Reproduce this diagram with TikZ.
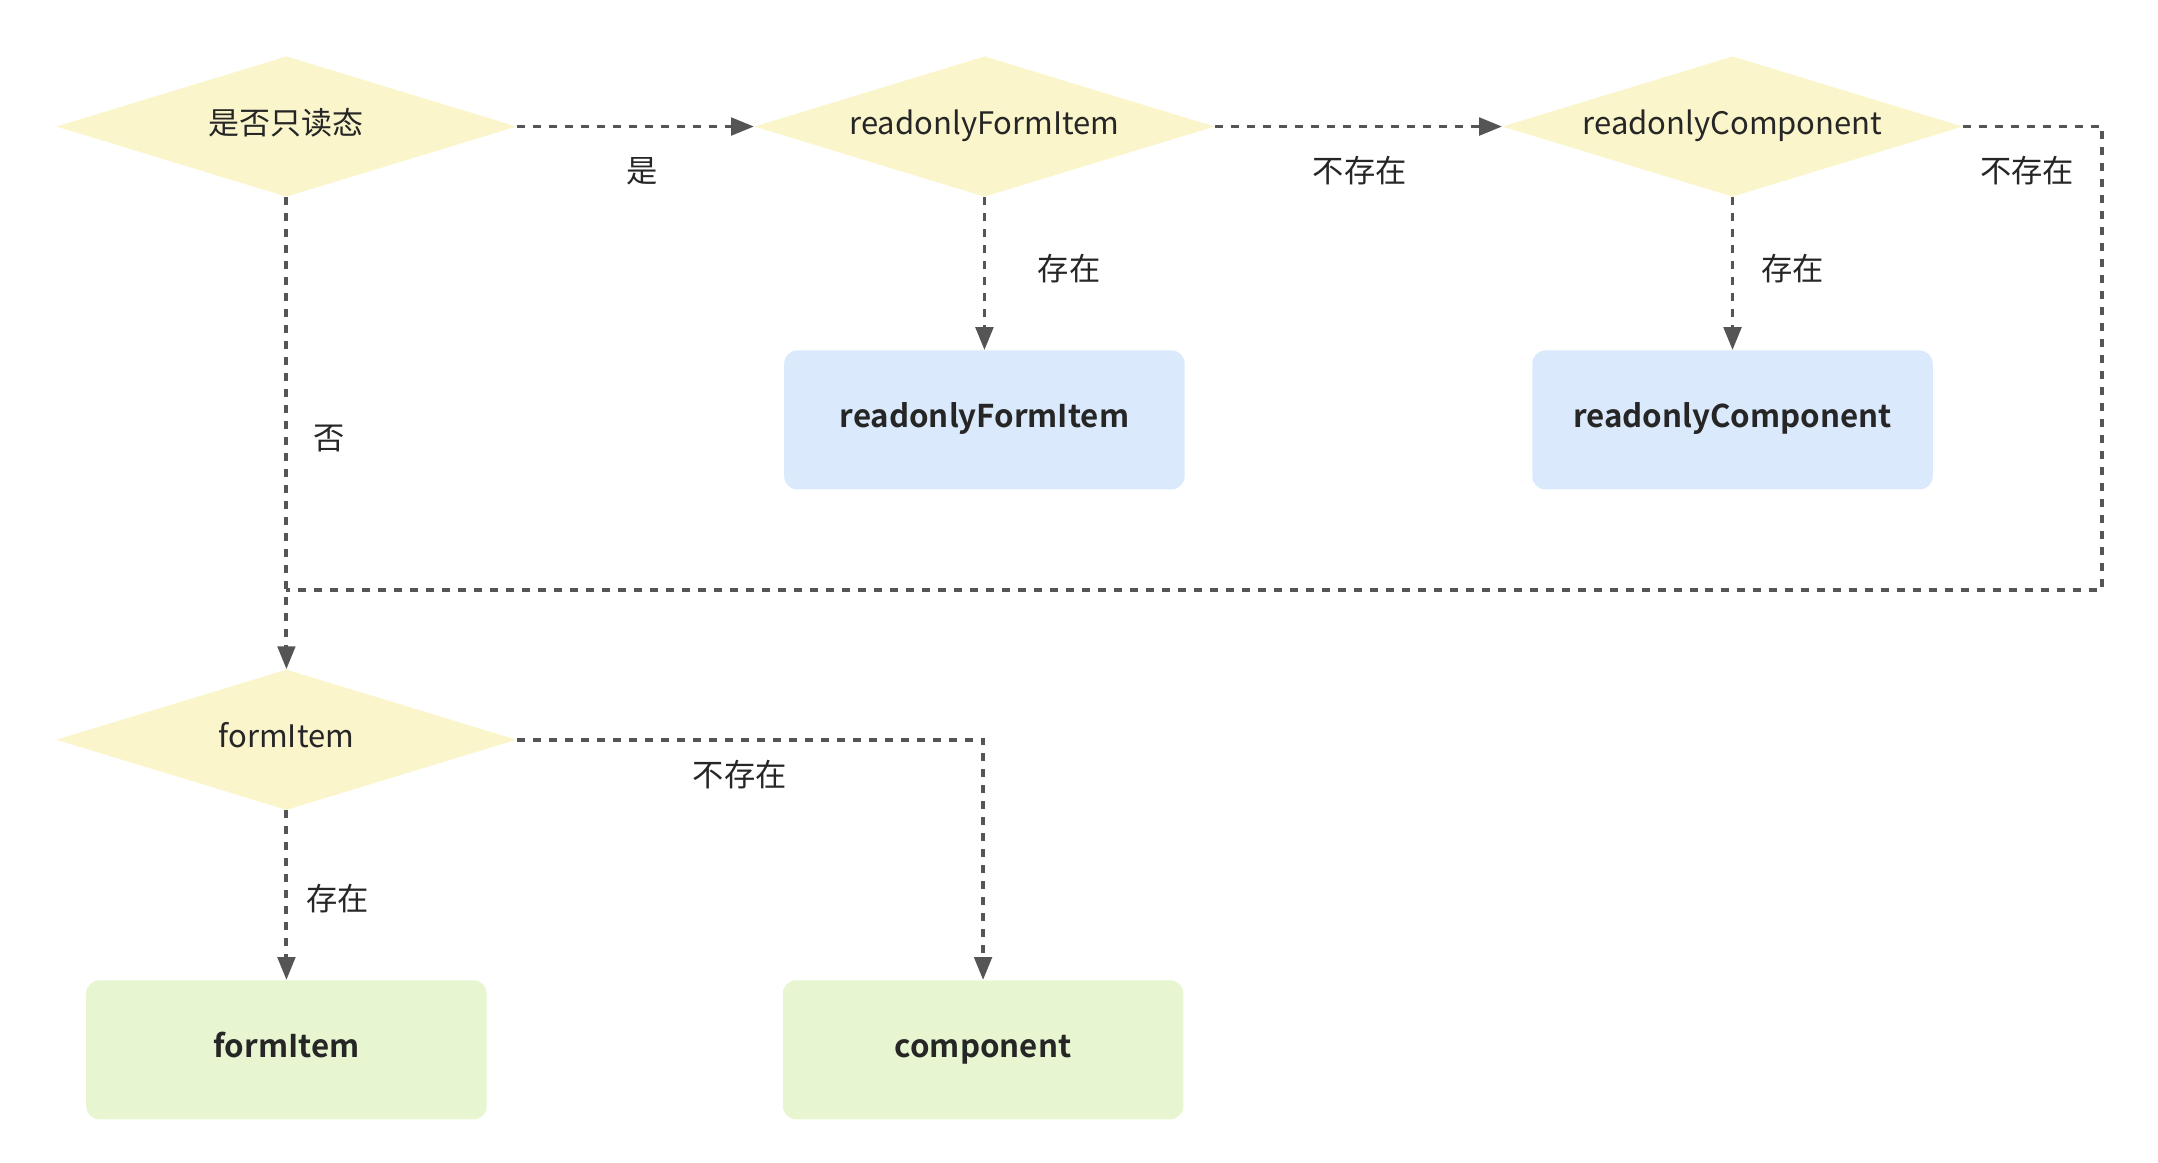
\documentclass[tikz,border=0pt]{standalone}
\usepackage{fontspec}
\setmainfont{Noto Sans CJK SC}[BoldFont={Noto Sans CJK SC Bold}]
\usetikzlibrary{shapes.geometric,arrows.meta}
\definecolor{askfill}{HTML}{FAF5CB}
\definecolor{rofill}{HTML}{DAE9FB}
\definecolor{okfill}{HTML}{E7F6D0}
\definecolor{linegray}{HTML}{555555}
\definecolor{textgray}{HTML}{262626}
\begin{document}
\begin{tikzpicture}[x=1pt,y=-1pt,
  ask/.style={diamond,fill=askfill,minimum width=331pt,minimum height=101pt,aspect=3.3,inner sep=0pt,text height=1.1em,text depth=0pt,text=textgray,font=\fontsize{22.3pt}{26pt}\selectfont},
  res/.style={rectangle,rounded corners=9.5pt,minimum width=288pt,minimum height=100pt,text height=1.1em,text depth=0pt,text=textgray,font=\fontsize{22.5pt}{26pt}\selectfont\bfseries},
  lbl/.style={text=textgray,inner sep=0pt,font=\fontsize{22.5pt}{26pt}\selectfont},
  flow/.style={linegray,line width=2.8pt,dash pattern=on 5.75pt off 5.75pt},
  go/.style={flow,-{Triangle[length=16.5pt,width=12.5pt]}}]
\useasboundingbox (0,0) rectangle (1552,835.7);

% questions
\node[ask] (q1) at (206,91) {是否只读态};
\node[ask] (q2) at (708,91) {readonlyFormItem};
\node[ask] (q3) at (1246,91) {readonlyComponent};
\node[ask] (q4) at (206,532) {formItem};

% results
\node[res,fill=rofill] (r1) at (708,302) {readonlyFormItem};
\node[res,fill=rofill] (r2) at (1246,302) {readonlyComponent};
\node[res,fill=okfill] (r3) at (206,755) {formItem};
\node[res,fill=okfill] (r4) at (707,755) {component};

\coordinate (c1) at (1512,91);
\coordinate (c2) at (1512,424);
\coordinate (c3) at (206,424);
\coordinate (c4) at (707,532);

\draw[go] (q1) -- (q2);
\draw[go] (q2) -- (q3);
\draw[go] (q2) -- (r1);
\draw[go] (q3) -- (r2);
\draw[flow] (q3.east) -- (c1) -- (c2) -- (c3);
\draw[go] (q1) -- (q4);
\draw[go] (q4) -- (r3);
\draw[go] (q4.east) -- (c4) -- (r4);

% labels
\node[lbl] (l1) at (462,123) {是};
\node[lbl] (l2) at (978,123) {不存在};
\node[lbl] (l3) at (1458,123) {不存在};
\node[lbl] (l4) at (769,193) {存在};
\node[lbl] (l5) at (1289,193) {存在};
\node[lbl] (l6) at (237,315) {否};
\node[lbl] (l7) at (532,557) {不存在};
\node[lbl] (l8) at (243,646) {存在};
\end{tikzpicture}
\end{document}
